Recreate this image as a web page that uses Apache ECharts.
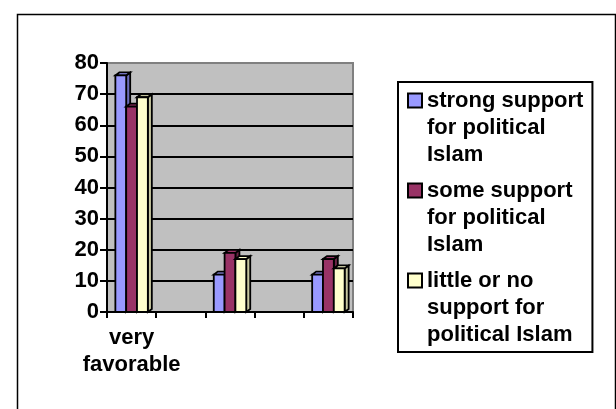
<!DOCTYPE html>
<html>
<head>
<meta charset="utf-8">
<script src="https://cdn.jsdelivr.net/npm/echarts@6/dist/echarts.min.js"></script>
<style>
html,body{margin:0;padding:0;background:#fff;}
#chart{width:616px;height:409px;}
</style>
</head>
<body>
<div id="chart"></div>
<script>
// ---- data ----
const categories = ['very favorable', '', '', '', ''];
const seriesNames = [
  'strong support\nfor political\nIslam',
  'some support\nfor political\nIslam',
  'little or no\nsupport for\npolitical Islam'
];
const strongSupport = [76, null, 12, null, 12];
const someSupport   = [66, null, 19, null, 17];
const littleSupport = [69, null, 17, null, 14];
const yTicks = { min: 0, max: 80, interval: 10 };

// ---- styles ----
const FONT = "'Liberation Sans', Arial, sans-serif";
const colors = ['#9999ff', '#993366', '#ffffcc'];
const sideColors = ['#6b6bb8', '#6b2447', '#c8c8a0'];

function toPoints(arr) {
  const out = [];
  arr.forEach(function (v, i) { if (v != null) out.push([i, v]); });
  return out;
}

function renderItem(params, api) {
  const s = params.seriesIndex;
  const cat = api.value(0), val = api.value(1);
  const base = api.coord([cat, 0]);
  const top = api.coord([cat, val]);
  const band = api.size([1, 0])[0];
  const w = band * 0.22;
  const x0 = base[0] - 1.5 * w + s * w;
  const y0 = base[1], y1 = top[1];
  const dx = 4, dy = 3;
  const color = colors[s];
  const st = { stroke: '#000', lineWidth: 1.8, lineJoin: 'miter' };
  return {
    type: 'group',
    children: [
      { type: 'polygon', shape: { points: [[x0 + w, y1], [x0 + w + dx, y1 - dy], [x0 + w + dx, y0 - dy], [x0 + w, y0]] },
        style: Object.assign({ fill: sideColors[s] }, st) },
      { type: 'polygon', shape: { points: [[x0, y1], [x0 + dx, y1 - dy], [x0 + w + dx, y1 - dy], [x0 + w, y1]] },
        style: Object.assign({ fill: color }, st) },
      { type: 'rect', shape: { x: x0, y: y1, width: w, height: y0 - y1 },
        style: Object.assign({ fill: color }, st) }
    ]
  };
}

const allData = [strongSupport, someSupport, littleSupport];

const chart = echarts.init(document.getElementById('chart'), null, { renderer: 'canvas' });
chart.setOption({
  animation: false,
  graphic: [{
    type: 'rect', left: 15, top: 12,
    shape: { width: 598, height: 420 },
    style: { fill: 'none', stroke: '#000', lineWidth: 1.5 }, z: -1
  }],
  grid: {
    left: 107, right: 263, top: 63, bottom: 97,
    show: true, backgroundColor: '#c0c0c0', borderColor: '#808080', borderWidth: 2
  },
  legend: {
    orient: 'vertical',
    left: 398, top: 82,
    padding: [4, 9, 3, 9],
    backgroundColor: '#fff',
    borderColor: '#000', borderWidth: 2,
    itemWidth: 14, itemHeight: 81, itemGap: 7,
    icon: 'path://M0 0 M0 6.5 H14 V20.5 H0 Z M0 81',
    itemStyle: { borderColor: '#000', borderWidth: 2 },
    textStyle: { fontFamily: FONT, fontWeight: 'bold', fontSize: 22, lineHeight: 27, color: '#000', padding: [0, 0, 0, 0] },
    data: seriesNames
  },
  xAxis: {
    type: 'category',
    data: categories,
    boundaryGap: true,
    axisLine: { lineStyle: { color: '#000', width: 2 } },
    axisTick: { show: true, interval: 0, length: 6, lineStyle: { color: '#000', width: 2 } },
    axisLabel: { interval: 0, margin: 12, fontFamily: FONT, fontWeight: 'bold', fontSize: 22, lineHeight: 27, color: '#000',
      formatter: function (v) { return v.replace(' ', '\n'); } },
    splitLine: { show: false }
  },
  yAxis: {
    type: 'value',
    min: yTicks.min, max: yTicks.max, interval: yTicks.interval,
    axisLine: { show: true, lineStyle: { color: '#000', width: 2 } },
    axisTick: { show: true, length: 7, lineStyle: { color: '#000', width: 2 } },
    axisLabel: { margin: 8, fontFamily: FONT, fontWeight: 'bold', fontSize: 22, color: '#000' },
    splitLine: { show: true, lineStyle: { color: ['#000', '#000', '#000', '#000', '#000', '#000', '#000', '#000', '#808080'], width: 2 } }
  },
  series: allData.map(function (arr, i) {
    return {
      type: 'custom',
      name: seriesNames[i],
      renderItem: renderItem,
      itemStyle: { color: colors[i], borderColor: '#000', borderWidth: 2 },
      encode: { x: 0, y: 1 },
      data: toPoints(arr)
    };
  })
});
</script>
</body>
</html>
